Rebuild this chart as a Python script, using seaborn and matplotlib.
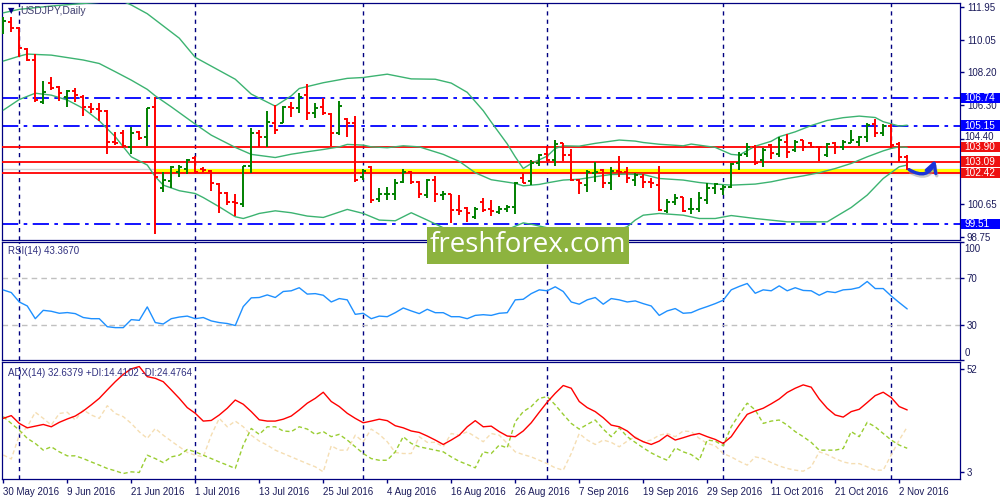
import numpy as np
import pandas as pd
import matplotlib
matplotlib.use('Agg')
import matplotlib.pyplot as plt
from matplotlib.patches import Rectangle
import seaborn as sns

# ---- USDJPY daily bars, 30 May 2016 .. 3 Nov 2016 ----
opens = [
    110.61, 111.09, 110.71, 109.51, 108.90, 106.51, 107.60, 107.33, 106.76, 107.14,
    106.80, 106.19, 106.07, 105.98, 104.22, 104.70, 103.93, 104.79, 104.47, 106.19,
    101.55, 101.99, 102.50, 102.69, 103.27, 102.69, 102.56, 101.80, 101.30, 100.79,
    100.65, 102.83, 104.74, 104.51, 105.31, 105.31, 106.19, 106.13, 106.89, 105.84,
    106.19, 105.80, 104.70, 105.50, 105.27, 102.22, 102.79, 100.92, 101.21, 101.23,
    101.93, 102.50, 101.93, 101.17, 102.03, 101.17, 101.23, 100.31, 100.44, 99.93,
    100.79, 100.35, 100.21, 100.40, 100.50, 102.12, 101.97, 102.98, 103.51, 103.17,
    104.13, 103.46, 102.03, 101.74, 102.45, 102.60, 101.84, 102.56, 102.50, 102.03,
    102.22, 101.93, 101.74, 100.27, 100.79, 101.07, 100.35, 100.40, 100.88, 101.55,
    101.49, 101.64, 102.98, 103.55, 103.93, 103.17, 104.03, 103.55, 104.22, 103.74,
    104.32, 104.13, 103.93, 103.46, 104.13, 103.93, 104.16, 104.22, 104.51, 105.23,
    104.70, 105.12, 104.09, 103.36]
highs = [
    111.38, 111.34, 110.80, 109.56, 109.22, 107.69, 107.90, 107.41, 107.18, 107.27,
    106.89, 106.42, 106.42, 106.03, 104.79, 104.89, 105.04, 104.85, 106.13, 106.80,
    102.50, 102.85, 102.92, 103.25, 103.40, 102.79, 102.60, 101.84, 101.36, 101.26,
    102.83, 105.02, 104.89, 105.98, 106.32, 106.26, 106.51, 107.04, 107.50, 106.42,
    106.74, 105.84, 106.55, 105.56, 105.69, 102.69, 102.85, 101.55, 101.65, 102.07,
    102.64, 102.56, 101.97, 102.07, 102.26, 101.42, 101.26, 101.17, 100.50, 100.50,
    100.98, 100.88, 100.54, 100.60, 101.93, 102.41, 103.17, 103.55, 103.99, 104.32,
    104.13, 103.78, 102.08, 102.60, 103.08, 102.64, 102.75, 103.40, 102.75, 102.45,
    102.35, 102.16, 102.85, 100.92, 101.21, 101.07, 100.98, 101.32, 101.87, 101.87,
    101.74, 102.98, 103.65, 104.16, 104.03, 103.84, 104.09, 104.51, 104.64, 104.35,
    104.35, 104.22, 103.97, 104.16, 104.22, 104.32, 104.89, 104.55, 105.31, 105.52,
    105.23, 105.23, 104.22, 103.46]
lows = [
    110.38, 110.48, 109.09, 108.86, 106.51, 106.36, 107.18, 106.57, 106.22, 106.51,
    105.71, 105.84, 105.42, 103.55, 104.03, 103.84, 103.55, 104.35, 103.99, 98.97,
    101.36, 101.55, 102.22, 102.37, 102.41, 102.50, 101.42, 100.16, 100.60, 99.97,
    100.50, 102.45, 103.93, 103.93, 104.64, 105.27, 105.65, 105.84, 105.46, 105.56,
    105.78, 103.99, 104.60, 104.47, 101.93, 102.03, 100.69, 100.79, 100.88, 100.88,
    101.84, 101.80, 100.98, 101.03, 100.79, 100.88, 99.55, 100.02, 99.64, 99.83,
    100.22, 99.97, 100.08, 100.21, 100.08, 101.84, 101.74, 102.83, 103.11, 102.83,
    103.11, 101.97, 101.23, 101.36, 101.93, 101.55, 101.45, 102.22, 101.87, 101.70,
    101.55, 101.59, 100.27, 100.12, 100.60, 100.22, 100.08, 100.21, 100.65, 101.23,
    101.17, 101.55, 102.60, 103.36, 102.89, 102.79, 103.21, 103.36, 103.30, 103.65,
    103.71, 103.84, 103.13, 103.36, 103.51, 103.75, 104.13, 103.99, 104.22, 104.47,
    104.55, 103.84, 103.08, 102.60]
closes = [
    111.15, 110.71, 109.56, 108.90, 106.61, 107.08, 107.27, 106.99, 107.14, 106.89,
    106.22, 106.07, 105.98, 104.22, 104.13, 103.97, 104.74, 104.41, 106.13, 102.22,
    102.03, 102.79, 102.79, 103.17, 102.50, 102.60, 101.84, 101.30, 100.79, 100.69,
    102.83, 104.74, 104.51, 105.37, 104.89, 106.22, 106.13, 106.80, 105.84, 106.13,
    105.84, 104.70, 106.26, 105.27, 102.03, 102.56, 100.88, 101.26, 101.23, 101.84,
    102.50, 101.93, 101.26, 102.03, 101.26, 101.26, 100.31, 100.27, 100.17, 100.40,
    100.31, 100.27, 100.40, 100.50, 101.87, 101.87, 102.98, 103.46, 103.17, 104.09,
    103.46, 102.03, 101.87, 102.50, 102.50, 101.84, 102.56, 102.50, 102.12, 102.31,
    101.93, 101.87, 100.31, 100.79, 100.98, 100.27, 100.40, 100.98, 101.55, 101.78,
    101.64, 102.94, 103.46, 103.93, 102.98, 103.74, 103.59, 104.35, 103.65, 104.22,
    103.93, 103.93, 103.90, 104.09, 103.90, 104.22, 104.32, 104.51, 105.17, 104.70,
    105.12, 104.03, 103.36, 102.69]

# Bollinger(20) at a subset of bars
bb_upper_bar = [0, 2, 6, 9, 12, 14, 16, 18, 22, 24, 26, 29, 31, 34, 36, 37, 40, 43, 45, 48,
                51, 54, 56, 58, 60, 61, 63, 64, 65, 66, 68, 69, 70, 72, 74, 77, 79, 80, 82, 85,
                86, 89, 91, 92, 94, 96, 97, 99, 101, 103, 105, 107, 109, 110, 112, 113]
bb_upper = [111.60, 111.80, 111.99, 112.10, 112.20, 112.45, 112.05, 111.55, 110.15, 109.05,
            108.55, 107.80, 106.95, 106.26, 106.85, 107.27, 107.60, 107.85, 107.90, 108.09,
            107.82, 107.80, 107.58, 107.05, 106.00, 105.35, 104.10, 103.36, 102.69, 102.98,
            103.40, 103.84, 103.99, 103.97, 104.13, 104.32, 104.26, 104.18, 104.08, 103.99,
            104.09, 103.90, 103.50, 103.46, 103.97, 104.25, 104.51, 104.79, 105.15, 105.44,
            105.60, 105.69, 105.61, 105.37, 105.12, 105.17]
bb_mid_bar = [0, 2, 3, 6, 10, 12, 14, 16, 18, 19, 21, 24, 26, 29, 31, 34, 36, 38, 40, 42,
              43, 45, 46, 48, 50, 52, 55, 57, 59, 61, 64, 65, 67, 68, 70, 72, 74, 76, 78, 80,
              82, 85, 87, 89, 91, 94, 96, 98, 100, 102, 104, 106, 108, 110, 111, 112, 113]
bb_mid = [108.84, 109.12, 109.24, 109.18, 108.90, 108.70, 108.23, 107.75, 107.22, 106.85,
          106.22, 105.23, 104.60, 103.90, 103.50, 103.32, 103.51, 103.65, 103.78, 103.93,
          104.07, 104.03, 103.93, 103.88, 103.99, 103.93, 103.50, 103.10, 102.45, 102.05,
          101.84, 101.70, 101.78, 101.87, 102.03, 102.08, 102.22, 102.35, 102.37, 102.35,
          102.12, 102.03, 101.89, 101.80, 101.74, 101.80, 101.93, 102.12, 102.27, 102.45,
          102.69, 102.98, 103.36, 103.70, 103.84, 103.93, 103.90]
bb_lower_bar = [0, 2, 4, 6, 8, 10, 12, 14, 16, 18, 19, 20, 22, 24, 25, 27, 29, 30, 31, 32,
                34, 36, 38, 40, 43, 45, 47, 49, 51, 53, 55, 57, 60, 63, 65, 66, 68, 71, 75, 78,
                79, 80, 82, 85, 87, 89, 91, 94, 98, 103, 106, 108, 110, 112, 113]
bb_lower = [106.03, 106.64, 107.00, 106.89, 106.61, 106.13, 105.42, 104.51, 103.36, 102.89,
            102.22, 101.74, 101.42, 101.26, 101.03, 100.50, 99.93, 99.83, 99.97, 100.12,
            100.27, 100.16, 99.97, 99.89, 100.35, 100.12, 99.74, 99.70, 100.16, 99.74,
            99.30, 98.95, 98.70, 99.20, 99.58, 99.50, 99.30, 98.95, 98.90, 99.36,
            99.74, 100.02, 100.12, 100.02, 99.83, 99.83, 100.00, 99.83, 99.64, 99.64,
            100.46, 101.17, 102.12, 102.79, 102.89]

rsi = [59.5, 57.3, 49.3, 45.9, 35.1, 42.2, 41.4, 39.7, 40.3, 39.4,
       36.1, 35.1, 35.1, 28.3, 27.5, 27.5, 34.3, 33.7, 45.1, 31.8,
       30.6, 35.1, 36.5, 37.3, 35.1, 36.1, 33.2, 31.8, 31.0, 29.3,
       45.4, 52.8, 53.1, 55.3, 53.1, 58.2, 58.8, 61.4, 56.0, 56.4,
       55.0, 49.3, 52.2, 51.1, 38.8, 39.7, 35.1, 37.3, 36.8, 40.2,
       44.2, 41.7, 39.4, 43.1, 40.2, 40.2, 36.8, 36.8, 35.1, 37.9,
       38.5, 37.9, 39.7, 40.2, 51.1, 51.6, 56.4, 59.6, 58.8, 62.2,
       58.2, 49.3, 47.4, 51.1, 53.1, 47.4, 52.2, 51.1, 49.3, 50.2,
       47.9, 45.9, 37.9, 41.7, 43.7, 39.7, 40.2, 43.1, 45.4, 47.9,
       50.8, 59.6, 62.5, 65.0, 56.7, 59.6, 58.8, 63.0, 58.8, 61.4,
       59.1, 58.8, 55.0, 58.2, 57.3, 59.6, 60.1, 61.6, 66.7, 60.7,
       60.7, 54.4, 48.8, 43.4]

adx = [28.6, 29.9, 26.2, 24.1, 24.9, 25.7, 24.6, 26.7, 28.3, 29.7,
       32.1, 35.0, 38.1, 42.1, 46.0, 49.5, 52.1, 53.2, 48.4, 47.6,
       46.0, 42.1, 38.1, 33.7, 31.0, 27.3, 27.6, 30.2, 33.4, 37.3,
       35.3, 31.8, 27.9, 27.3, 27.3, 28.2, 29.7, 32.6, 35.8, 38.1,
       41.0, 36.6, 34.2, 31.0, 28.6, 26.5, 27.3, 28.2, 27.5, 25.1,
       24.1, 22.6, 21.9, 20.2, 18.3, 16.2, 18.3, 20.6, 24.6, 27.5,
       24.6, 24.9, 22.3, 20.2, 19.9, 22.6, 26.5, 31.5, 36.3, 40.5,
       44.2, 42.9, 36.6, 33.7, 31.8, 28.9, 25.4, 24.6, 22.6, 19.4,
       17.5, 16.2, 17.8, 20.6, 18.3, 19.4, 20.6, 21.4, 19.9, 18.6,
       16.7, 19.9, 25.4, 30.5, 32.1, 33.4, 35.5, 37.8, 40.9, 42.9,
       44.5, 43.4, 37.8, 33.4, 30.2, 29.2, 31.8, 32.9, 36.1, 39.4,
       41.0, 38.5, 34.2, 32.6]
plus_di = [29.4, 26.2, 23.0, 19.1, 16.7, 13.5, 15.1, 12.7, 10.8, 10.8,
           9.5, 7.9, 6.4, 4.8, 3.7, 2.4, 3.2, 2.9, 11.1, 9.5,
           7.6, 10.3, 11.1, 13.8, 12.7, 11.1, 9.5, 7.9, 6.4, 4.8,
           15.9, 23.8, 21.0, 24.6, 24.6, 22.6, 22.3, 24.6, 23.5, 21.0,
           22.3, 19.9, 21.0, 18.3, 15.1, 11.9, 9.5, 8.7, 8.7, 12.7,
           19.9, 16.7, 15.1, 14.3, 13.5, 12.7, 10.3, 8.2, 6.7, 5.1,
           12.7, 11.9, 15.9, 14.6, 27.0, 31.8, 34.2, 38.1, 38.9, 35.0,
           30.5, 26.2, 23.5, 25.7, 27.8, 23.5, 19.9, 24.1, 19.9, 17.2,
           14.6, 12.2, 10.3, 8.7, 14.6, 12.7, 11.4, 8.7, 18.3, 17.8,
           15.6, 24.6, 30.5, 35.8, 32.6, 26.2, 27.3, 27.8, 25.4, 22.3,
           19.9, 17.2, 13.5, 13.5, 13.5, 14.3, 22.3, 19.9, 26.7, 24.6,
           21.4, 18.3, 15.9, 14.4]
minus_di = [11.2, 9.3, 20.6, 24.6, 31.5, 28.6, 25.4, 30.9, 31.5, 27.8,
            32.6, 30.2, 28.6, 34.6, 30.9, 29.4, 26.2, 22.2, 19.1, 23.8,
            20.6, 17.8, 15.1, 12.4, 11.1, 10.3, 20.6, 28.6, 24.6, 27.3,
            24.6, 20.6, 17.8, 15.9, 13.5, 11.9, 10.3, 8.7, 7.1, 5.6,
            3.2, 15.6, 13.5, 13.5, 20.6, 17.5, 23.5, 21.0, 17.5, 12.4,
            11.9, 11.9, 19.9, 17.2, 17.2, 15.1, 21.4, 20.6, 22.2, 19.9,
            17.5, 21.4, 20.6, 16.7, 12.7, 11.4, 10.3, 8.7, 7.1, 5.1,
            4.0, 11.9, 21.4, 18.3, 16.2, 18.3, 17.2, 15.1, 17.8, 19.9,
            17.5, 18.3, 20.6, 21.4, 19.9, 22.6, 22.3, 19.1, 16.7, 15.6,
            11.9, 10.3, 8.2, 6.4, 10.3, 9.5, 7.6, 6.0, 4.8, 4.0,
            3.5, 5.6, 12.7, 11.4, 9.5, 7.9, 7.1, 7.1, 5.6, 4.0,
            4.0, 11.2, 18.3, 24.5]

tick_labels = ['30 May 2016', '9 Jun 2016', '21 Jun 2016', '1 Jul 2016', '13 Jul 2016',
               '25 Jul 2016', '4 Aug 2016', '16 Aug 2016', '26 Aug 2016', '7 Sep 2016',
               '19 Sep 2016', '29 Sep 2016', '11 Oct 2016', '21 Oct 2016', '2 Nov 2016']

blue_levels = [106.74, 105.15, 99.51]
red_levels = [103.90, 103.09, 102.42]
main_ticks = [111.95, 110.05, 108.20, 106.30, 104.40, 102.55, 100.65, 98.75]

NAVY = '#000080'
TXT = '#1a1a5a'
GREEN = '#008000'
RED = '#ff0000'
BB = '#3cb371'

dates = pd.bdate_range('2016-05-30', periods=len(closes))
df = pd.DataFrame({'open': opens, 'high': highs, 'low': lows, 'close': closes,
                   'rsi': rsi, 'adx': adx, 'pdi': plus_di, 'mdi': minus_di}, index=dates)
df['bar'] = np.arange(len(df))
# first trading day of each month (1 Jun is the first one on screen)
first_of_month = df.groupby([df.index.year, df.index.month])['bar'].min().values[1:]

sns.set_theme(style='white')
plt.rcParams['font.family'] = ['Liberation Sans', 'DejaVu Sans']

fig = plt.figure(figsize=(10, 5), dpi=100)
ax1 = fig.add_axes([0.002, 0.52, 0.958, 0.4746])
ax2 = fig.add_axes([0.002, 0.28, 0.958, 0.2354])
ax3 = fig.add_axes([0.002, 0.042, 0.958, 0.2346])
XMIN, XMAX = -0.16, 119.6

for ax in (ax1, ax2, ax3):
    ax.set_xlim(XMIN, XMAX)
    for sp in ax.spines.values():
        sp.set_color(NAVY)
        sp.set_linewidth(0.9)
    for m in first_of_month:
        ax.axvline(m, color=NAVY, lw=1, ls=(0, (3, 3)), zorder=1)
    ax.yaxis.tick_right()
    ax.tick_params(axis='y', colors=NAVY, labelcolor=TXT, labelsize=7, length=3,
                   width=1, direction='out', pad=2, right=True, left=False)
    ax.tick_params(axis='x', bottom=False, labelbottom=False)
    ax.grid(False)

# ---- main price panel ----
ax1.set_ylim(98.60, 112.18)
ax1.set_yticks(main_ticks)
# 102.55 sits under the level boxes, 104.40 is drawn by hand just above its tick
ax1.set_yticklabels(['' if v in (102.55, 104.40) else '%.2f' % v for v in main_ticks])
ytr = ax1.get_yaxis_transform()
ax1.text(1.0045, 104.48, '104.40', transform=ytr, fontsize=7, color=TXT,
         va='center', ha='left', clip_on=False, zorder=5)

for lv in blue_levels:
    ax1.axhline(lv, color='#0000ff', lw=1.3, ls=(0, (9, 3, 2, 3)), zorder=2)

# yellow zone with soft shadow
ax1.axhline(102.69, color='#d4d4d4', lw=1, zorder=2)
ax1.fill_between([19, XMAX], 102.45, 102.64, color='#ffff00', lw=0, zorder=2.5)
for k in range(8):
    ax1.fill_between([19, XMAX], 102.45 - 0.03 * (k + 1), 102.45 - 0.03 * k,
                     color='#808080', alpha=0.16 * (1 - k / 8), lw=0, zorder=2.4)
for lv in red_levels:
    ax1.axhline(lv, color=RED, lw=1.3, zorder=3)

sns.lineplot(x=bb_upper_bar, y=bb_upper, ax=ax1, color=BB, lw=1, zorder=3)
sns.lineplot(x=bb_mid_bar, y=bb_mid, ax=ax1, color=BB, lw=1, zorder=3)
sns.lineplot(x=bb_lower_bar, y=bb_lower, ax=ax1, color=BB, lw=1, zorder=3)

bar_col = np.where(df['close'] >= df['open'], GREEN, RED)
ax1.vlines(df['bar'], df['low'], df['high'], colors=bar_col, lw=1.4, zorder=4)
ax1.hlines(df['open'], df['bar'] - 0.4, df['bar'], colors=bar_col, lw=1.4, zorder=4)
ax1.hlines(df['close'], df['bar'], df['bar'] + 0.4, colors=bar_col, lw=1.4, zorder=4)

ax1.text(0.006, 0.967, '\u25bc', transform=ax1.transAxes, fontsize=6, color=NAVY,
         va='center', ha='left', family='DejaVu Sans')
ax1.text(0.019, 0.967, 'USDJPY,Daily', transform=ax1.transAxes, fontsize=7.5,
         color='#404070', va='center', ha='left')

# price-level boxes on the scale
for lv, fc in [(v, '#0000ff') for v in blue_levels] + [(v, '#ee1111') for v in red_levels]:
    ax1.add_patch(Rectangle((1.0012, lv - 0.29), 0.045, 0.58, transform=ytr, facecolor=fc,
                            edgecolor='none', clip_on=False, zorder=6))
    ax1.text(1.0045, lv, '%.2f' % lv, transform=ytr, fontsize=7.2, color='white',
             va='center', ha='left', clip_on=False, zorder=7)

# hand-drawn style hook arrow (with a soft shadow)
arrow_kw = dict(arrowstyle='->,head_length=0.55,head_width=0.3',
                connectionstyle='arc3,rad=0.6', lw=2.4, shrinkA=0, shrinkB=0)
ax1.annotate('', xy=(116.6, 103.05), xytext=(113.4, 102.47),
             arrowprops=dict(color='#9a9a9a', alpha=0.5, **arrow_kw), zorder=5)
ax1.annotate('', xy=(116.5, 103.18), xytext=(113.25, 102.62),
             arrowprops=dict(color='#1a35d8', **arrow_kw), zorder=6)

# ---- RSI panel ----
ax2.set_ylim(0, 100)
ax2.set_yticks([0, 30, 70, 100])
ax2.set_yticklabels(['', '30', '70', ''])
ytr2 = ax2.get_yaxis_transform()
ax2.text(1.0045, 94.6, '100', transform=ytr2, fontsize=7, color=TXT, va='center', ha='left')
ax2.text(1.0045, 6.3, '0', transform=ytr2, fontsize=7, color=TXT, va='center', ha='left')
for lv in (30, 70):
    ax2.axhline(lv, color='#c0c0c0', lw=1, ls=(0, (4, 3)), zorder=2)
sns.lineplot(data=df, x='bar', y='rsi', ax=ax2, color='#1e90ff', lw=1, zorder=3)
ax2.text(0.006, 0.925, 'RSI(14) 43.3670', transform=ax2.transAxes, fontsize=7,
         color='#303080', va='center', ha='left')

# ---- ADX panel ----
ax3.set_ylim(-0.2, 55.5)
ax3.set_yticks([3, 52])
sns.lineplot(data=df, x='bar', y='mdi', ax=ax3, color='#f5deb3', lw=1, ls=(0, (3, 2)), zorder=2)
sns.lineplot(data=df, x='bar', y='pdi', ax=ax3, color='#9acd32', lw=1, ls=(0, (3, 2)), zorder=2)
sns.lineplot(data=df, x='bar', y='adx', ax=ax3, color=RED, lw=1, zorder=3)
ax3.text(0.006, 0.90, 'ADX(14) 32.6379 +DI:14.4102 -DI:24.4764', transform=ax3.transAxes,
         fontsize=7, color='#303080', va='center', ha='left')

for ax in (ax1, ax2, ax3):
    ax.set_xlabel('')
    ax.set_ylabel('')

ax3.set_xticks(df['bar'].values[::8][:len(tick_labels)])
ax3.set_xticklabels(tick_labels)
ax3.tick_params(axis='x', bottom=True, labelbottom=True, colors=NAVY, labelcolor=TXT,
                labelsize=7, length=3, width=1, pad=3)
for lbl in ax3.get_xticklabels():
    lbl.set_ha('left')

# watermark
fig.add_artist(Rectangle((0.427, 0.472), 0.202, 0.074, transform=fig.transFigure,
                         facecolor='#8db33f', edgecolor='none', zorder=10))
fig.text(0.528, 0.509, 'freshforex.com', color='white', fontsize=20, family='Open Sans',
         ha='center', va='center', zorder=11)

fig.savefig('out.png', dpi=100, facecolor='white')
